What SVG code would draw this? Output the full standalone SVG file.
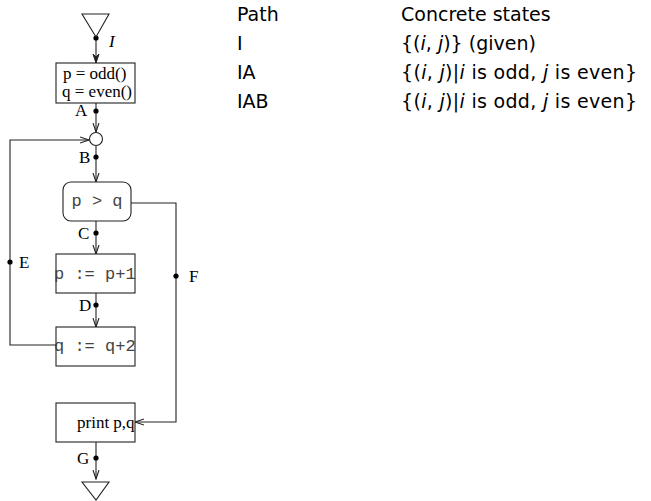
<svg xmlns="http://www.w3.org/2000/svg" width="651" height="501" viewBox="0 0 651 501">
<defs>
<style>
.ln{fill:none;stroke:#222;stroke-width:1.1}
.bx{fill:#fff;stroke:#222;stroke-width:1.1}
.dot{fill:#000}
.serif{font-family:"Liberation Serif","Times New Roman",serif;font-size:17px;fill:#000}
.mono{font-family:"Liberation Mono","Courier New",monospace;font-size:17px;fill:#444}
.tab{font-family:"DejaVu Sans",sans-serif;font-size:19px;fill:#000}
.it{font-style:italic}
</style>
<marker id="open" markerWidth="10" markerHeight="8" refX="9" refY="4" orient="auto" markerUnits="userSpaceOnUse">
<path d="M0,1 L9,4 L0,7" fill="none" stroke="#222" stroke-width="1.1"/>
</marker>
<marker id="fill" markerWidth="10" markerHeight="8" refX="9" refY="4" orient="auto" markerUnits="userSpaceOnUse">
<path d="M0,1 L9,4 L0,7 L3,4 Z" fill="#222" stroke="#222" stroke-width="1"/>
</marker>
</defs>
<g id="connectors">
<line class="ln" x1="96" y1="38" x2="96" y2="63" marker-end="url(#fill)"/>
<line class="ln" x1="96" y1="103" x2="96" y2="132" marker-end="url(#open)"/>
<polyline class="ln" points="56,345 10,345 10,140 89,140" marker-end="url(#open)"/>
<line class="ln" x1="96" y1="146" x2="96" y2="182" marker-end="url(#open)"/>
<polyline class="ln" points="131,203 176,203 176,422 135,422" marker-end="url(#open)"/>
<line class="ln" x1="96" y1="221" x2="96" y2="254" marker-end="url(#open)"/>
<line class="ln" x1="96" y1="293" x2="96" y2="327" marker-end="url(#open)"/>
<line class="ln" x1="96" y1="442" x2="96" y2="479" marker-end="url(#open)"/>
<circle class="dot" cx="96" cy="38" r="2.6"/>
<circle class="dot" cx="96" cy="111" r="2.6"/>
<circle class="dot" cx="96" cy="157" r="2.6"/>
<circle class="dot" cx="96" cy="233" r="2.6"/>
<circle class="dot" cx="96" cy="305" r="2.6"/>
<circle class="dot" cx="96" cy="458" r="2.6"/>
<circle class="dot" cx="10" cy="262" r="2.6"/>
<circle class="dot" cx="176" cy="276" r="2.6"/>
<text class="serif it" x="109" y="47">I</text>
<text class="serif" x="75" y="116">A</text>
<text class="serif" x="79" y="163">B</text>
<text class="serif" x="78" y="239">C</text>
<text class="serif" x="79" y="311">D</text>
<text class="serif" x="77" y="464">G</text>
<text class="serif" x="19" y="268">E</text>
<text class="serif" x="189" y="282">F</text>
</g>
<g id="start">
<polygon class="ln" points="82,14 109,14 96,37"/>
</g>
<g id="init">
<rect class="bx" x="56" y="63" width="79" height="40"/>
<text class="serif" x="63" y="79">p = odd()</text>
<text class="serif" x="62" y="97">q = even()</text>
</g>
<g id="join">
<circle class="bx" cx="96" cy="139" r="6.5"/>
</g>
<g id="cond">
<rect class="bx" x="63" y="182" width="68" height="39" rx="8"/>
<text class="mono" x="97" y="206" text-anchor="middle">p &gt; q</text>
</g>
<g id="incp">
<rect class="bx" x="56" y="254" width="79" height="39"/>
<text class="mono" x="54" y="279">p := p+1</text>
</g>
<g id="incq">
<rect class="bx" x="56" y="327" width="79" height="39"/>
<text class="mono" x="54" y="351">q := q+2</text>
</g>
<g id="print">
<rect class="bx" x="56" y="403" width="79" height="39"/>
<text class="serif" x="77" y="428">print p,q</text>
</g>
<g id="end">
<polygon class="ln" points="82,482 109,482 96,500"/>
</g>
<g id="table">
<text class="tab" x="237" y="21">Path</text>
<text class="tab" x="237" y="50">I</text>
<text class="tab" x="237" y="79">IA</text>
<text class="tab" x="237" y="108">IAB</text>
<text class="tab" x="401" y="21">Concrete states</text>
<text class="tab" x="401" y="50">{(<tspan class="it">i</tspan>, <tspan class="it">j</tspan>)} (given)</text>
<text class="tab" x="401" y="79" textLength="236" lengthAdjust="spacing">{(<tspan class="it">i</tspan>, <tspan class="it">j</tspan>)|<tspan class="it">i</tspan> is odd, <tspan class="it">j</tspan> is even}</text>
<text class="tab" x="401" y="108" textLength="236" lengthAdjust="spacing">{(<tspan class="it">i</tspan>, <tspan class="it">j</tspan>)|<tspan class="it">i</tspan> is odd, <tspan class="it">j</tspan> is even}</text>
</g>
</svg>
